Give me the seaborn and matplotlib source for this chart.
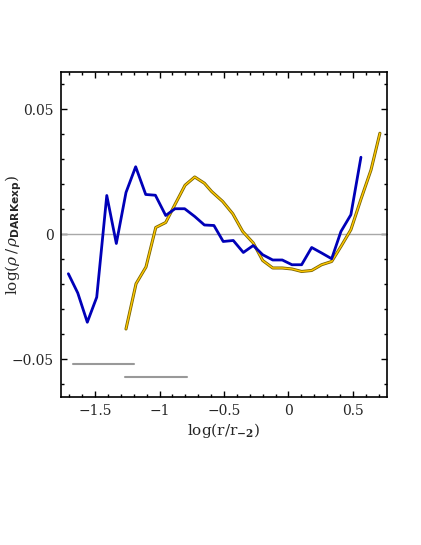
import matplotlib
matplotlib.use("Agg")
import matplotlib.pyplot as plt
import matplotlib.patheffects as pe
from matplotlib.ticker import MultipleLocator
import seaborn as sns
import pandas as pd

blue_x = [-1.707, -1.634, -1.560, -1.487, -1.409, -1.335, -1.260, -1.185, -1.107, -1.032,
          -0.952, -0.880, -0.805, -0.727, -0.652, -0.578, -0.506, -0.428, -0.350, -0.273,
          -0.200, -0.122, -0.048, 0.027, 0.102, 0.180, 0.257, 0.335, 0.407, 0.484, 0.562]
blue_y = [-0.0157, -0.0234, -0.0351, -0.0251, 0.0156, -0.0036, 0.0168, 0.0271, 0.0160, 0.0157,
          0.0076, 0.0103, 0.0103, 0.0072, 0.0038, 0.0036, -0.0028, -0.0024, -0.0072, -0.0044,
          -0.0081, -0.0102, -0.0102, -0.0121, -0.0121, -0.0052, -0.0074, -0.0097, 0.0012, 0.0079, 0.0309]

gold_x = [-1.260, -1.182, -1.105, -1.029, -0.952, -0.878, -0.802, -0.727, -0.652, -0.596,
          -0.510, -0.432, -0.355, -0.273, -0.200, -0.122, -0.048, 0.027, 0.102, 0.180,
          0.257, 0.335, 0.407, 0.484, 0.562, 0.640, 0.709]
gold_y = [-0.0378, -0.0197, -0.0130, 0.0028, 0.0048, 0.0122, 0.0197, 0.0230, 0.0205, 0.0172,
          0.0132, 0.0083, 0.0012, -0.0034, -0.0104, -0.0134, -0.0134, -0.0138, -0.0148, -0.0144,
          -0.0121, -0.0108, -0.0048, 0.0019, 0.0141, 0.0258, 0.0405]

seg1_x = [-1.673, -1.195]
seg1_y = [-0.0517, -0.0517]
seg2_x = [-1.270, -0.789]
seg2_y = [-0.0569, -0.0569]

sns.set_style("ticks")
plt.rcParams['font.family'] = ['DejaVu Serif']
plt.rcParams['mathtext.fontset'] = 'custom'
plt.rcParams['mathtext.rm'] = 'DejaVu Serif'
plt.rcParams['mathtext.it'] = 'DejaVu Serif:italic'
plt.rcParams['mathtext.bf'] = 'DejaVu Serif:bold'
plt.rcParams['mathtext.sf'] = 'DejaVu Sans:bold'

fig = plt.figure(figsize=(4.21, 5.45), dpi=100)
ax = fig.add_axes([0.1449, 0.2716, 0.9192 - 0.1449, 0.8679 - 0.2716])

ax.axhline(0, color='#a8a8a8', lw=1.0, zorder=1)
sns.lineplot(x=seg1_x, y=seg1_y, ax=ax, color='#999999', lw=1.5, zorder=1)
sns.lineplot(x=seg2_x, y=seg2_y, ax=ax, color='#999999', lw=1.5, zorder=1)

sns.lineplot(x=gold_x, y=gold_y, ax=ax, color='#ffc800', lw=1.0, zorder=2,
             path_effects=[pe.Stroke(linewidth=2.2, foreground='#7a6400'), pe.Normal()])
sns.lineplot(x=blue_x, y=blue_y, ax=ax, color='#0000b8', lw=2.0, zorder=3)

ax.set_xlim(-1.764, 0.764)
ax.set_ylim(-0.065, 0.065)
ax.xaxis.set_minor_locator(MultipleLocator(0.1))
ax.yaxis.set_minor_locator(MultipleLocator(0.01))
ax.set_xticks([-1.5, -1, -0.5, 0, 0.5])
ax.set_xticklabels(['\u22121.5', '\u22121', '\u22120.5', '0', '0.5'])
ax.set_yticks([-0.05, 0, 0.05])
ax.set_yticklabels(['\u22120.05', '0', '0.05'])
ax.tick_params(which='both', direction='in', top=True, right=True, labelsize=10, color='black')
ax.tick_params(which='major', length=4.5, width=1, pad=5)
ax.tick_params(which='minor', length=2.5, width=1)
for s in ax.spines.values():
    s.set_linewidth(1.2)
    s.set_color('black')

ax.set_xlabel(r'log(r/r$_{\mathbf{-2}}$)', fontsize=11, labelpad=2)
ax.set_ylabel(r'log($\rho\,/\,\rho_{\mathsf{DARKexp}}$)', fontsize=11)
ax.yaxis.set_label_coords(-0.115, 0.5)

fig.savefig('out.png', dpi=100)
